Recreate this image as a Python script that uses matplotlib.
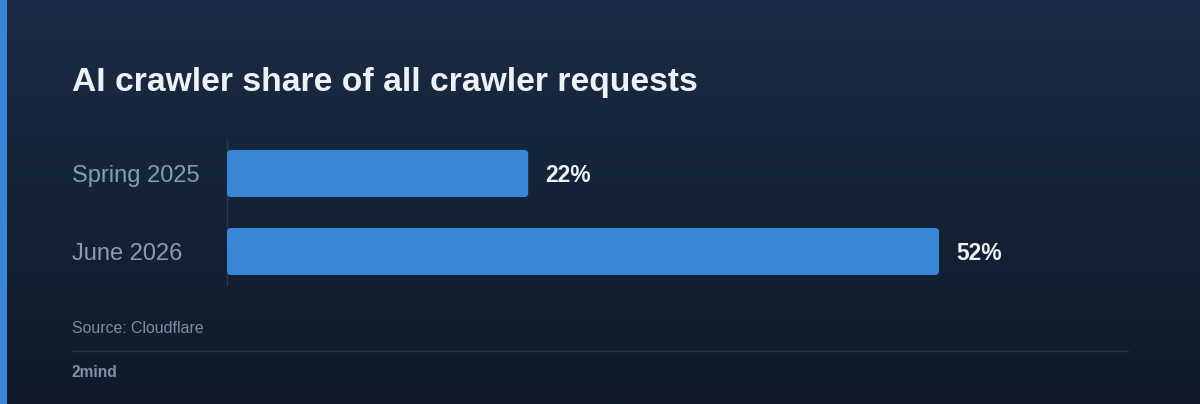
import numpy as np
import matplotlib
matplotlib.use("Agg")
import matplotlib.pyplot as plt
from matplotlib.patches import FancyBboxPatch, Rectangle
from matplotlib.lines import Line2D
from matplotlib.transforms import blended_transform_factory

# ---- data ----
categories = ["Spring 2025", "June 2026"]
values = [22, 52]
value_labels = ["22%", "52%"]
title = "AI crawler share of all crawler requests"
source = "Source: Cloudflare"
brand = "2mind"

W, H, DPI = 1200, 404, 100
plt.rcParams['font.family'] = ['Liberation Sans', 'DejaVu Sans']

fig = plt.figure(figsize=(W / DPI, H / DPI), dpi=DPI)

# background gradient
bg = fig.add_axes([0, 0, 1, 1], zorder=-10)
top = np.array([0x1a, 0x2c, 0x45]) / 255
bot = np.array([0x0e, 0x1a, 0x2a]) / 255
t = np.linspace(0, 1, 256)[:, None]
grad = top[None, :] * (1 - t) + bot[None, :] * t
bg.imshow(grad[:, None, :], aspect='auto', extent=[0, 1, 0, 1], origin='upper')
bg.set_xlim(0, 1); bg.set_ylim(0, 1)
bg.axis('off')

# left stripe
fig.patches.append(Rectangle((0, 0), 7 / W, 1, transform=fig.transFigure,
                             facecolor='#3a86d6', edgecolor='none', zorder=5))

# plot axes
ax_left, ax_right, ax_top, ax_bot = 227, 1128, 140, 285
ax = fig.add_axes([ax_left / W, (H - ax_bot) / H, (ax_right - ax_left) / W, (ax_bot - ax_top) / H])
ax.patch.set_alpha(0)
px_per_unit = 712 / 52.0
ax.set_xlim(0, (ax_right - ax_left) / px_per_unit)
spacing = 78.0
margin = (173.5 - ax_top) / spacing
ax.set_ylim(len(categories) - 1 + margin, -margin)
bar_h = 47.0 / spacing

ypos = np.arange(len(categories))
bars = ax.barh(ypos, values, height=bar_h, color='#3a86d6')
rx = 4.0 / px_per_unit
ry = 4.0 / spacing
for b in bars:
    x0, y0, w, h = b.get_x(), b.get_y(), b.get_width(), b.get_height()
    b.set_visible(False)
    p = FancyBboxPatch((x0, y0), w, h, boxstyle=f"round,pad=0,rounding_size={rx}",
                       mutation_aspect=ry / rx, facecolor='#3a86d6', edgecolor='none', zorder=3)
    ax.add_patch(p)

for y, v, lab in zip(ypos, values, value_labels):
    ax.annotate(lab, xy=(v, y), xytext=(17 * 72 / DPI, -8.8 * 72 / DPI), textcoords='offset points',
                ha='left', va='baseline', fontsize=16.5, fontweight='bold', color='#eef2f7')

trans = blended_transform_factory(fig.transFigure, ax.transData)
for y, c in zip(ypos, categories):
    ax.annotate(c, xy=(72 / W, y), xycoords=trans, xytext=(0, -8.6 * 72 / DPI),
                textcoords='offset points', ha='left', va='baseline', fontsize=17,
                color='#8b9bb0')

for s in ['top', 'right', 'bottom']:
    ax.spines[s].set_visible(False)
ax.spines['left'].set_color('#2c3a4c')
ax.spines['left'].set_linewidth(1.0)
ax.set_xticks([]); ax.set_yticks([])

# texts
fig.text(72 / W, 1 - 91 / H, title, ha='left', va='baseline', fontsize=24.2,
         fontweight='bold', color='#eef2f7')
fig.text(72 / W, 1 - 333 / H, source, ha='left', va='baseline', fontsize=11.4,
         color='#7d8ca0')
fig.text(72 / W, 1 - 377 / H, brand, ha='left', va='baseline', fontsize=11.2,
         fontweight='bold', color='#8090a5')

fig.add_artist(Line2D([72 / W, 1128 / W], [1 - 350.5 / H, 1 - 350.5 / H],
                      transform=fig.transFigure, color='#27323f', linewidth=1.0))

fig.savefig('out.png', dpi=DPI)
